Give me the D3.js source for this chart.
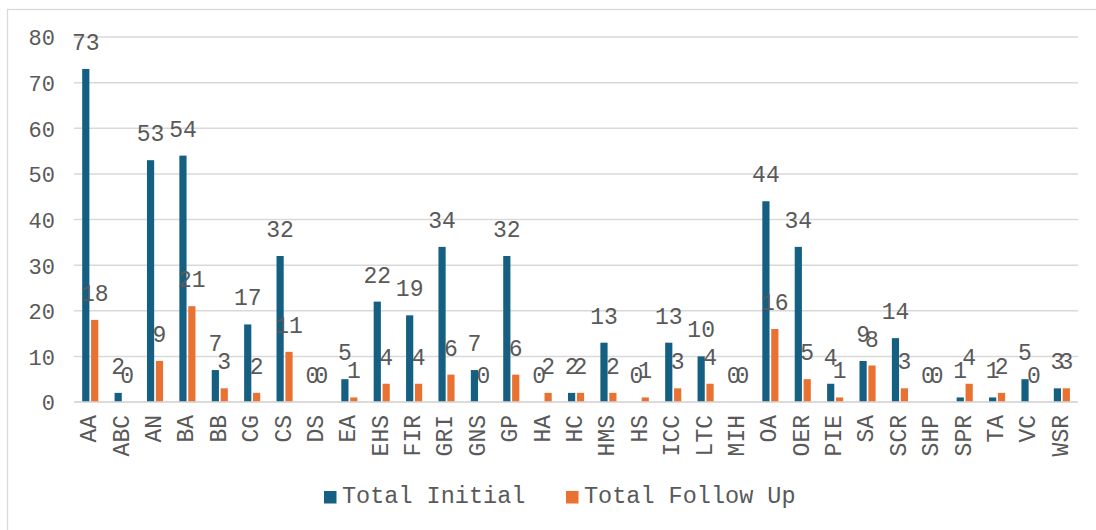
<!DOCTYPE html>
<html>
<head>
<meta charset="utf-8">
<script src="https://cdn.jsdelivr.net/npm/d3@7"></script>
<style>
  html, body { margin: 0; padding: 0; background: #fff; }
  svg text { font-family: "Liberation Mono", "Courier New", monospace; fill: #595959; }
</style>
</head>
<body>
<svg id="chart" width="1096" height="530"></svg>
<script>
// Program codes along the x axis
const categories = ["AA","ABC","AN","BA","BB","CG","CS","DS","EA","EHS","FIR","GRI","GNS","GP","HA","HC","HMS","HS","ICC","LTC","MIH","OA","OER","PIE","SA","SCR","SHP","SPR","TA","VC","WSR"];
// Counts per program
const totalInitial  = [73,2,53,54,7,17,32,0,5,22,19,34,7,32,0,2,13,0,13,10,0,44,34,4,9,14,0,1,1,5,3];
const totalFollowUp = [18,0,9,21,3,2,11,0,1,4,4,6,0,6,2,2,2,1,3,4,0,16,5,1,8,3,0,4,2,0,3];
const seriesNames = ["Total Initial", "Total Follow Up"];
const seriesColors = ["#156082", "#E97132"];
const yTicks = [0,10,20,30,40,50,60,70,80];

const svg = d3.select("#chart");

// Outer chart frame
svg.append("rect")
  .attr("x", 7.5).attr("y", 9.5)
  .attr("width", 1200).attr("height", 600)
  .attr("fill", "none").attr("stroke", "#d9d9d9").attr("stroke-width", 1.3);

const plot = { left: 74, right: 1078, top: 37, bottom: 402 };

const x = d3.scaleBand().domain(categories).range([plot.left, plot.right]).padding(0);
const y = d3.scaleLinear().domain([0, 80]).range([plot.bottom, plot.top]);

// Horizontal gridlines
svg.append("g").selectAll("line").data(yTicks).join("line")
  .attr("x1", plot.left).attr("x2", plot.right)
  .attr("y1", d => y(d)).attr("y2", d => y(d))
  .attr("stroke", "#d9d9d9").attr("stroke-width", 1.5);

// Y axis labels
const yAxis = d3.axisLeft(y).tickValues(yTicks).tickSize(0).tickPadding(0).tickFormat(d3.format("d"));
const yg = svg.append("g").attr("transform", `translate(${55},0)`).call(yAxis);
yg.select(".domain").remove();
yg.selectAll("text")
  .attr("font-size", 22)
  .attr("fill", "#595959")
  .style("font-family", "'Liberation Mono', monospace")
  .attr("dy", "0.36em");

// Bars
const barW = 7.2;
const offsets = [-8.0, 0.9];
const seriesData = [totalInitial, totalFollowUp];

seriesData.forEach((vals, si) => {
  const g = svg.append("g");
  const cx = c => x(c) + x.bandwidth() / 2 + offsets[si];
  g.selectAll("rect").data(categories).join("rect")
    .attr("x", c => cx(c))
    .attr("y", (c, i) => y(vals[i]))
    .attr("width", barW)
    .attr("height", (c, i) => y(0) - y(vals[i]))
    .attr("fill", seriesColors[si]);
  g.selectAll("text").data(categories).join("text")
    .attr("x", c => cx(c) + barW / 2)
    .attr("y", (c, i) => y(vals[i]) - 19)
    .attr("text-anchor", "middle")
    .attr("font-size", 23)
    .text((c, i) => vals[i]);
});

// Zero baseline
svg.append("line")
  .attr("x1", plot.left).attr("x2", plot.right)
  .attr("y1", y(0)).attr("y2", y(0))
  .attr("stroke", "#d9d9d9").attr("stroke-width", 1.5);

// Category labels, rotated
svg.append("g").selectAll("text").data(categories).join("text")
  .attr("transform", c => `translate(${x(c) + x.bandwidth() / 2 + 6},${415}) rotate(-90)`)
  .attr("text-anchor", "end")
  .attr("font-size", 23)
  .text(c => c);

// Legend
const legendItems = [
  { name: seriesNames[0], color: seriesColors[0], x: 324 },
  { name: seriesNames[1], color: seriesColors[1], x: 566 }
];
const lg = svg.append("g");
legendItems.forEach(it => {
  lg.append("rect").attr("x", it.x).attr("y", 491).attr("width", 12.5).attr("height", 12.5).attr("fill", it.color);
  lg.append("text").attr("x", it.x + 18).attr("y", 503).attr("font-size", 23.5).text(it.name);
});
</script>
</body>
</html>
